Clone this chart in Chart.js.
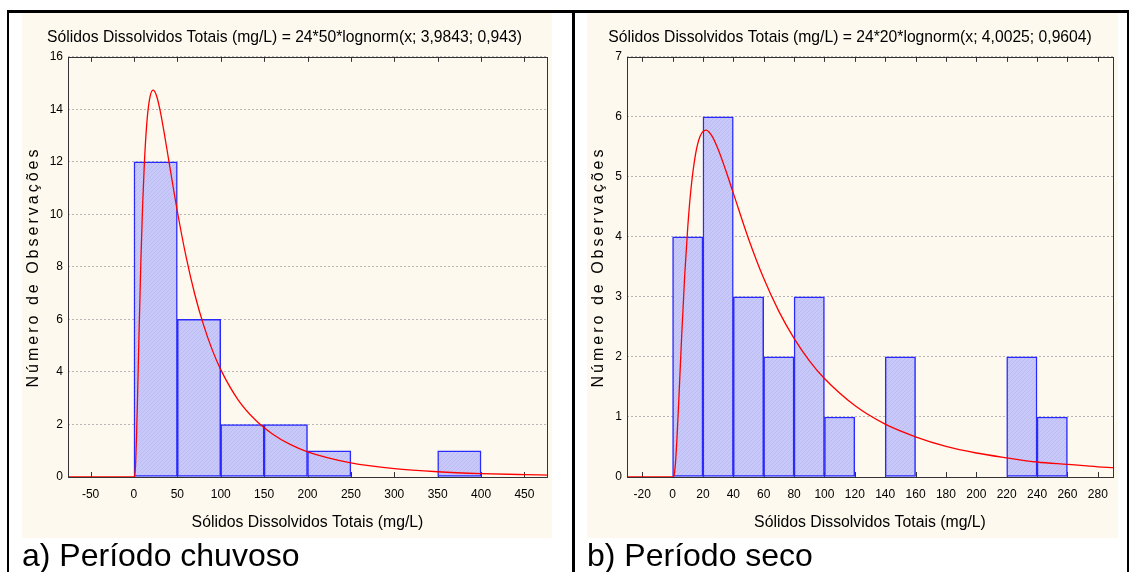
<!DOCTYPE html>
<html lang="pt">
<head>
<meta charset="utf-8">
<title>Sólidos Dissolvidos Totais</title>
<script src="https://cdn.jsdelivr.net/npm/chart.js@4.4.1/dist/chart.umd.min.js"></script>
<style>
  html, body { margin: 0; padding: 0; background: #fff; }
  body { width: 1131px; height: 572px; position: relative; overflow: hidden;
         font-family: 'Liberation Sans', Arial, sans-serif; }
  .rule { position: absolute; background: #000; }
  .panel { position: absolute; top: 13px; height: 525px; background: #fdf9ee; }
  .panel canvas { position: absolute; left: 0; top: 0; }
  .ytitle { position: absolute; top: 244px; left: -139px; width: 300px; height: 20px;
            line-height: 20px; text-align: center; transform: rotate(-90deg);
            font-family: 'Liberation Sans', Arial, sans-serif;
            font-size: 16px; letter-spacing: 3px; color: #000; white-space: nowrap; }
  .caption { position: absolute; top: 538px; font-size: 32px; line-height: 34px; color: #000; }
</style>
</head>
<body>
<div class="rule" style="left:7px; top:10px; width:1122px; height:3px;"></div>
<div class="rule" style="left:7px; top:10px; width:2px; height:562px;"></div>
<div class="rule" style="left:572px; top:10px; width:3px; height:562px;"></div>
<div class="rule" style="left:1127px; top:10px; width:2px; height:562px;"></div>

<div class="panel" style="left:22px; width:530px;">
  <canvas id="rainy" width="530" height="525"></canvas>
  <div class="ytitle">Número de Observações</div>
</div>
<div class="panel" style="left:587px; width:531px;">
  <canvas id="dry" width="531" height="525"></canvas>
  <div class="ytitle">Número de Observações</div>
</div>
<div class="caption" style="left:22px;">a) Período chuvoso</div>
<div class="caption" style="left:587px;">b) Período seco</div>

<script>
// --- data ---
const rainyBinEdges = [0, 50, 100, 150, 200, 250, 300, 350];
const rainyCounts = [12, 6, 2, 2, 1, 0, 0, 1];
const rainyTicks = [-50, 0, 50, 100, 150, 200, 250, 300, 350, 400, 450];
const rainyCurveX = [-76, 0, 1, 2, 3, 4, 6, 8, 10, 12, 15, 18, 22, 26, 30, 35, 40, 50, 60, 70, 80, 90, 100, 120, 140, 160, 180, 200, 250, 300, 350, 400, 450, 476];
const rainyCurveY = [0, 0, 0.07, 0.57, 1.57, 2.85, 5.67, 8.25, 10.35, 11.95, 13.55, 14.39, 14.73, 14.52, 13.98, 13.08, 12.08, 10.12, 8.40, 6.97, 5.81, 4.86, 4.09, 2.94, 2.17, 1.63, 1.24, 0.96, 0.54, 0.32, 0.20, 0.13, 0.09, 0.075];

const dryBinEdges = [0, 20, 40, 60, 80, 100, 120, 140, 160, 180, 200, 220, 240];
const dryCounts = [4, 6, 3, 2, 3, 1, 0, 2, 0, 0, 0, 2, 1];
const dryTicks = [-20, 0, 20, 40, 60, 80, 100, 120, 140, 160, 180, 200, 220, 240, 260, 280];
const dryCurveX = [-30, 0, 1, 2, 3, 4, 6, 8, 10, 12, 15, 18, 22, 26, 30, 35, 40, 50, 60, 70, 80, 90, 100, 120, 140, 160, 180, 200, 220, 240, 260, 280, 290];
const dryCurveY = [0, 0, 0.03, 0.26, 0.69, 1.22, 2.35, 3.36, 4.16, 4.77, 5.36, 5.67, 5.78, 5.68, 5.46, 5.11, 4.73, 3.97, 3.31, 2.76, 2.31, 1.94, 1.64, 1.19, 0.88, 0.67, 0.51, 0.40, 0.32, 0.25, 0.21, 0.17, 0.155];

const FONT = "'Liberation Sans', Arial, sans-serif";

// light blue fill with a fine diagonal hatch, like the Statistica bars
function hatch() {
    const c = document.createElement('canvas');
    c.width = 4; c.height = 4;
    const g = c.getContext('2d');
    g.fillStyle = '#c8c8f9';
    g.fillRect(0, 0, 4, 4);
    g.fillStyle = '#bbbbf3';
    for (let i = 0; i < 4; i++) g.fillRect(i, 3 - i, 1, 1);
    return g.createPattern(c, 'repeat');
}

// inner tick marks on top/bottom edges + frame round the plot area
const frame = {
    id: 'frame',
    beforeDatasetsDraw(chart) {
        const { ctx, chartArea: a, scales: { x } } = chart;
        ctx.save();
        ctx.strokeStyle = '#333';
        ctx.lineWidth = 1;
        x.ticks.forEach(t => {
            const px = Math.round(x.getPixelForValue(t.value)) + 0.5;
            ctx.beginPath();
            ctx.moveTo(px, a.top); ctx.lineTo(px, a.top + 5);
            ctx.moveTo(px, a.bottom); ctx.lineTo(px, a.bottom - 5);
            ctx.stroke();
        });
        ctx.restore();
    },
    afterDatasetsDraw(chart) {
        const { ctx, chartArea: a } = chart;
        ctx.save();
        ctx.strokeStyle = '#333';
        ctx.lineWidth = 1;
        ctx.strokeRect(Math.round(a.left) + 0.5, Math.round(a.top) + 0.5,
                       Math.round(a.right - a.left), Math.round(a.bottom - a.top));
        ctx.restore();
    }
};

function makeHist(id, cfg) {
    const half = cfg.binWidth / 2;
    return new Chart(document.getElementById(id), {
        type: 'bar',
        data: {
            datasets: [{
                type: 'line',
                data: cfg.curveX.map((v, i) => ({ x: v, y: cfg.curveY[i] })),
                borderColor: '#ff0000',
                borderWidth: 1.3,
                pointRadius: 0,
                cubicInterpolationMode: 'monotone',
                order: 0
            }, {
                type: 'bar',
                data: cfg.edges.map((e, i) => ({ x: e + half, y: cfg.counts[i] })),
                backgroundColor: hatch(),
                borderColor: '#2a2aff',
                borderWidth: 1.5,
                borderSkipped: false,
                barPercentage: 1,
                categoryPercentage: 1,
                order: 1
            }]
        },
        plugins: [frame],
        options: {
            responsive: false,
            animation: false,
            layout: { padding: { right: cfg.padRight, left: 0, bottom: 0, top: 0 } },
            plugins: {
                legend: { display: false },
                tooltip: { enabled: false },
                title: {
                    display: true,
                    text: cfg.title,
                    color: '#000',
                    font: { family: FONT, size: 15.7, weight: 'normal' },
                    padding: { top: 15, bottom: 10 }
                }
            },
            scales: {
                x: {
                    type: 'linear',
                    offset: false,
                    min: cfg.xMin,
                    max: cfg.xMax,
                    grid: { display: false, drawTicks: false },
                    border: { display: false },
                    afterBuildTicks(scale) { scale.ticks = cfg.ticks.map(v => ({ value: v })); },
                    ticks: {
                        autoSkip: false,
                        maxRotation: 0,
                        color: '#000',
                        padding: 10,
                        font: { family: FONT, size: 12 }
                    },
                    title: {
                        display: true,
                        text: 'Sólidos Dissolvidos Totais (mg/L)',
                        color: '#000',
                        font: { family: FONT, size: 15.8 },
                        padding: { top: 0, bottom: 6 }
                    },
                    afterFit(scale) { scale.height = 61; }
                },
                y: {
                    min: 0,
                    max: cfg.yMax,
                    grid: { color: '#b8b8b8', lineWidth: 1, drawTicks: false },
                    border: { display: false, dash: [2, 2] },
                    ticks: {
                        stepSize: cfg.yStep,
                        color: '#000',
                        padding: 5,
                        font: { family: FONT, size: 12 }
                    },
                    afterFit(scale) { scale.width = cfg.yWidth; }
                }
            }
        }
    });
}

makeHist('rainy', {
    title: 'Sólidos Dissolvidos Totais (mg/L) = 24*50*lognorm(x; 3,9843; 0,943)',
    edges: rainyBinEdges, counts: rainyCounts, binWidth: 50, ticks: rainyTicks,
    curveX: rainyCurveX, curveY: rainyCurveY,
    xMin: -76, xMax: 476, yMax: 16, yStep: 2,
    yWidth: 46, padRight: 5
});

makeHist('dry', {
    title: 'Sólidos Dissolvidos Totais (mg/L) = 24*20*lognorm(x; 4,0025; 0,9604)',
    edges: dryBinEdges, counts: dryCounts, binWidth: 20, ticks: dryTicks,
    curveX: dryCurveX, curveY: dryCurveY,
    xMin: -30, xMax: 290, yMax: 7, yStep: 1,
    yWidth: 40, padRight: 5
});
</script>
</body>
</html>
